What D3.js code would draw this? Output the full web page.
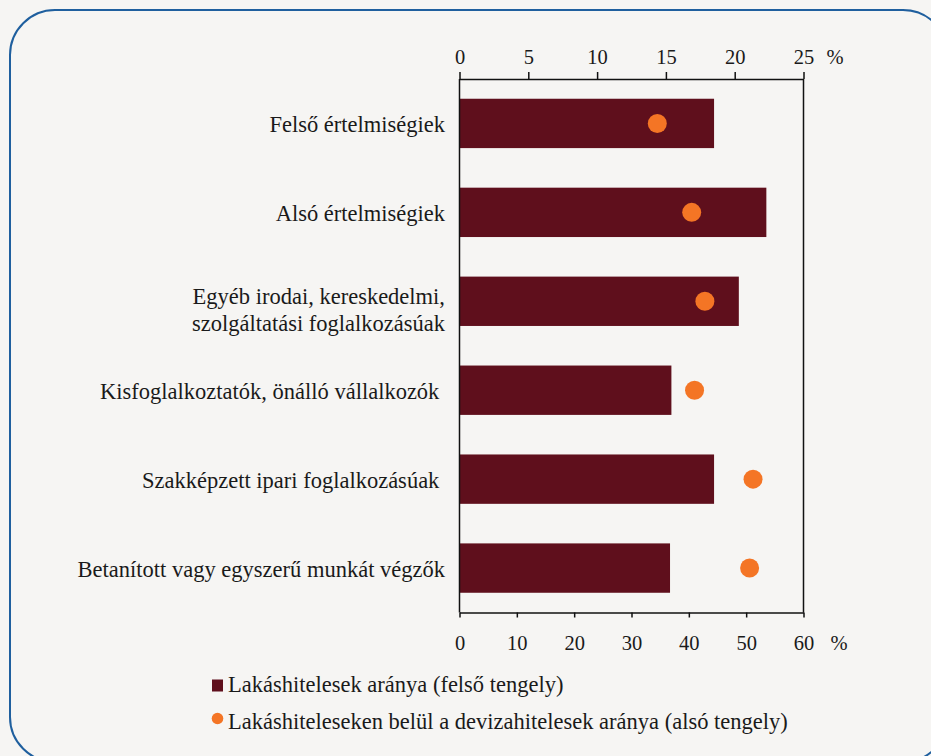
<!DOCTYPE html>
<html>
<head>
<meta charset="utf-8">
<script src="https://cdn.jsdelivr.net/npm/d3@7"></script>
<style>
  html, body { margin: 0; padding: 0; background: #f6f5f3; }
  svg { display: block; }
</style>
</head>
<body>
<svg id="chart" width="931" height="756"></svg>
<script>
const categories = [
  ["Felső értelmiségiek"],
  ["Alsó értelmiségiek"],
  ["Egyéb irodai, kereskedelmi,", "szolgáltatási foglalkozásúak"],
  ["Kisfoglalkoztatók, önálló vállalkozók\u00a0"],
  ["Szakképzett ipari foglalkozásúak\u00a0"],
  ["Betanított vagy egyszerű munkát végzők"]
];
const barValues = [18.5, 22.3, 20.3, 15.4, 18.5, 15.3];
const dotValues = [34.5, 40.5, 42.8, 41.0, 51.2, 50.6];
const topTicks = [0, 5, 10, 15, 20, 25];
const bottomTicks = [0, 10, 20, 30, 40, 50, 60];
const legendLabels = [
  "Lakáshitelesek aránya (felső tengely)",
  "Lakáshiteleseken belül a devizahitelesek aránya (alsó tengely)"
];
const unitLabel = "%";

const barColor = "#5f0f1c";
const dotColor = "#f47525";
const frameColor = "#1f5f9e";
const FONT = "'Liberation Serif', 'Times New Roman', 'DejaVu Serif', 'Noto Serif', serif";
const LABEL_SIZE = 22.5;
const TICK_SIZE = 20.5;

const svg = d3.select("#chart").style("font-family", FONT);
const plot = { left: 459.5, right: 803.5, top: 79, bottom: 612.5 };

// frame
svg.append("rect")
  .attr("x", 10).attr("y", 10)
  .attr("width", 938).attr("height", 752)
  .attr("rx", 45).attr("ry", 45)
  .attr("fill", "#f6f5f3")
  .attr("stroke", frameColor).attr("stroke-width", 2);

const xTop = d3.scaleLinear().domain([0, 25]).range([plot.left, plot.right]);
const xBot = d3.scaleLinear().domain([0, 60]).range([plot.left, plot.right]);
const y = d3.scaleBand().domain(d3.range(categories.length))
  .range([plot.top, plot.bottom]).paddingInner(0.445).paddingOuter(0.222);

// bars
svg.append("g").selectAll("rect").data(barValues).join("rect")
  .attr("x", xTop(0))
  .attr("y", (d, i) => y(i))
  .attr("width", d => xTop(d) - xTop(0))
  .attr("height", y.bandwidth())
  .attr("fill", barColor);

// dots
svg.append("g").selectAll("circle").data(dotValues).join("circle")
  .attr("cx", d => xBot(d))
  .attr("cy", (d, i) => y(i) + y.bandwidth() / 2)
  .attr("r", 9.5)
  .attr("fill", dotColor);

// box sides
svg.append("line").attr("x1", plot.left).attr("x2", plot.left)
  .attr("y1", plot.top).attr("y2", plot.bottom)
  .attr("stroke", "#111").attr("stroke-width", 1.5);
svg.append("line").attr("x1", plot.right).attr("x2", plot.right)
  .attr("y1", plot.top).attr("y2", plot.bottom)
  .attr("stroke", "#111").attr("stroke-width", 1.5);

// axes
const topAxis = svg.append("g").attr("transform", `translate(0,${plot.top})`)
  .call(d3.axisTop(xTop).tickValues(topTicks).tickSize(7).tickSizeOuter(0).tickPadding(8));
const botAxis = svg.append("g").attr("transform", `translate(0,${plot.bottom})`)
  .call(d3.axisBottom(xBot).tickValues(bottomTicks).tickSize(5).tickSizeOuter(0).tickPadding(18));
[topAxis, botAxis].forEach(g => {
  g.attr("font-family", null).style("font-family", FONT);
  g.select(".domain").attr("stroke", "#111").attr("stroke-width", 1.5);
  g.selectAll(".tick line").attr("stroke", "#111").attr("stroke-width", 1.5);
  g.selectAll(".tick text").attr("font-size", TICK_SIZE).style("font-family", FONT).attr("fill", "#1a1a1a");
});

const txt = (x, yy, s, size) => svg.append("text").attr("x", x).attr("y", yy)
  .attr("font-size", size).style("font-family", FONT).attr("fill", "#1a1a1a").text(s);

txt(826.5, 64, unitLabel, TICK_SIZE);
txt(830.5, 650, unitLabel, TICK_SIZE);

// category labels
const labels = svg.append("g").selectAll("text").data(categories).join("text")
  .attr("text-anchor", "end")
  .attr("font-size", LABEL_SIZE)
  .style("font-family", FONT)
  .attr("fill", "#1a1a1a")
  .attr("x", 445)
  .attr("y", (d, i) => y(i) + y.bandwidth() / 2 + (d.length > 1 ? 2.5 : 8.5));
labels.each(function(d) {
  const t = d3.select(this);
  d.forEach((line, k) => {
    t.append("tspan").attr("x", 445)
      .attr("dy", k === 0 ? 0 : 27)
      .text(line);
  });
});

// legend
svg.append("rect").attr("x", 212).attr("y", 679.5).attr("width", 11).attr("height", 12)
  .attr("fill", barColor);
txt(228, 692.3, legendLabels[0], LABEL_SIZE);
svg.append("circle").attr("cx", 217.5).attr("cy", 718.5).attr("r", 5.8).attr("fill", dotColor);
txt(228, 729, legendLabels[1], LABEL_SIZE);
</script>
</body>
</html>
